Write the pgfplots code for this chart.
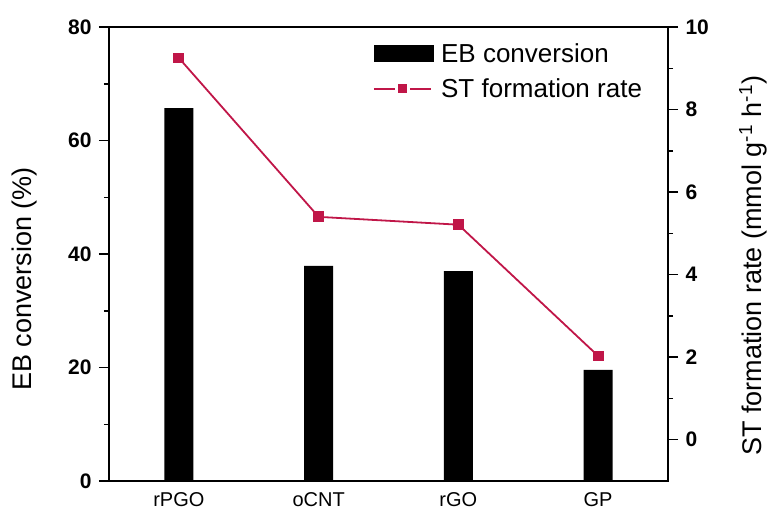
\documentclass[border=0pt]{standalone}
\usepackage{pgfplots}
\pgfplotsset{compat=1.18}
\usepackage{fontspec}
\setmainfont{Liberation Sans}
\definecolor{stred}{RGB}{192,22,72}

\begin{document}
\begin{tikzpicture}
\pgfplotsset{
  every axis/.append style={
    scale only axis, width=559pt, height=454pt,
    xmin=-0.5, xmax=3.5,
    axis line style={line width=1.6pt},
    /pgf/number format/assume math mode=true,
    tick align=outside,
    major tick length=10pt, minor tick length=5pt,
    every tick/.append style={line width=1.5pt, black},
    yticklabel style={font=\fontsize{21}{24}\selectfont\bfseries},
    ylabel style={font=\fontsize{27}{30}\selectfont},
  },
}
% EB conversion bars, left axis
\begin{axis}[
  ymin=0, ymax=80,
  ytick={0,20,40,60,80},
  minor ytick={10,30,50,70},
  ytick pos=left,
  yticklabel style={xshift=-4pt},
  xtick={0,1,2,3}, xticklabels={rPGO,oCNT,rGO,GP},
  xtick style={draw=none},
  xticklabel style={font=\fontsize{20}{24}\selectfont, yshift=2pt},
  ylabel={EB conversion (\%)},
  ylabel style={at={(axis description cs:-0.152,0.445)}, anchor=center},
]
\addplot[ybar, bar width=29pt, fill=black, draw=none]
  coordinates {(0,65.7) (1,37.9) (2,37.0) (3,19.6)};
\end{axis}
% ST formation rate line, right axis
\begin{axis}[
  ymin=-1, ymax=10,
  axis y line*=right, axis x line=none,
  ytick={0,2,4,6,8,10},
  minor ytick={1,3,5,7,9},
  yticklabel style={xshift=4pt},
  ylabel={ST formation rate (mmol g\textsuperscript{-1} h\textsuperscript{-1})},
  ylabel style={at={(axis description cs:1.152,0.474)}, anchor=center},
  legend style={at={(axis description cs:0.472,0.969)}, anchor=north west,
    draw=none, fill=none, inner sep=0pt,
    font=\fontsize{26}{28}\selectfont, row sep=11pt,
    nodes={inner sep=2pt}},
  legend cell align=left,
]
\addlegendimage{legend image code/.code={\fill[black] (0pt,-8pt) rectangle (59pt,8pt);}}
\addlegendentry{\hspace{6pt}EB conversion}
\addplot[stred, line width=1.8pt, mark=square*, mark size=4.5pt,
  mark options={fill=stred},
  legend image code/.code={
    \draw[stred, line width=1.8pt] (0pt,0pt) -- (21pt,0pt);
    \fill[stred] (25pt,-3.5pt) rectangle (32pt,3.5pt);
    \draw[stred, line width=1.8pt] (36pt,0pt) -- (57pt,0pt);}]
  coordinates {(0,9.25) (1,5.40) (2,5.21) (3,2.03)};
\addlegendentry{\hspace{6pt}ST formation rate}
\end{axis}
\pgfresetboundingbox
\path (-109pt,-36pt) rectangle (659pt,481pt);
\end{tikzpicture}
\end{document}
